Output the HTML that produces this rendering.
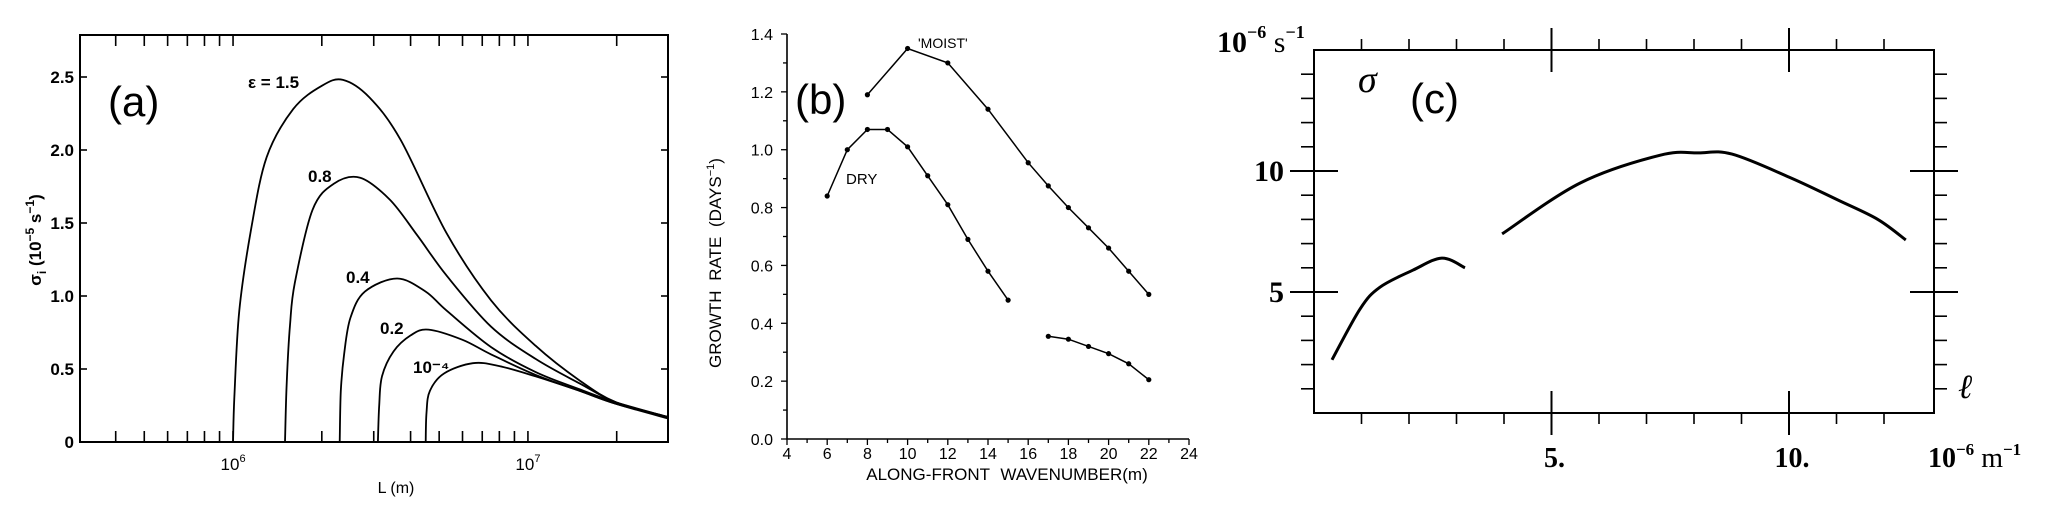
<!DOCTYPE html>
<html><head><meta charset="utf-8"><style>
html,body{margin:0;padding:0;background:#fff;}
svg{display:block;}
.sans{font-family:"Liberation Sans",sans-serif;}
.serif{font-family:"Liberation Serif",serif;}
</style></head><body>
<svg id="fig" width="2067" height="512" viewBox="0 0 2067 512" xmlns="http://www.w3.org/2000/svg">
<g id="pa"></g>
<g id="pb"></g>
<g id="pc"></g>
</svg>
<script>
// ---- Panel (a) data: L in units of 1e6 m, sigma in 1e-5 s^-1 ----
const aEpsLabels = ["ε = 1.5","0.8","0.4","0.2","10⁻⁴"];
const aL15 = [1.0,1.01,1.05,1.15,1.3,1.6,2.0,2.36,2.9,3.7,5.3,7.5,10.6,15,20,30];
const aS15 = [0,0.3,0.9,1.45,1.95,2.28,2.44,2.48,2.36,2.07,1.43,0.97,0.66,0.42,0.27,0.17];
const aL08 = [1.5,1.52,1.56,1.62,1.86,2.2,2.7,3.4,4.2,5.3,7.5,10.6,15,20,30];
const aS08 = [0,0.4,0.8,1.09,1.59,1.77,1.81,1.66,1.42,1.14,0.79,0.57,0.4,0.27,0.17];
const aL04 = [2.3,2.32,2.38,2.5,2.8,3.6,4.5,5.3,7.5,10.6,15,20,30];
const aS04 = [0,0.35,0.6,0.85,1.03,1.12,1.03,0.9,0.65,0.48,0.36,0.27,0.17];
const aL02 = [3.1,3.13,3.2,3.5,4.0,4.6,6.0,7.5,10.6,15,20,30];
const aS02 = [0,0.25,0.45,0.62,0.73,0.77,0.7,0.6,0.46,0.35,0.26,0.17];
const aL04m = [4.5,4.53,4.65,5.2,6.5,8,10.6,15,20,30];
const aS04m = [0,0.2,0.35,0.47,0.54,0.52,0.45,0.35,0.26,0.16];
const aYTicks = [0,0.5,1.0,1.5,2.0,2.5];
const aYTickLabels = ["0","0.5","1.0","1.5","2.0","2.5"];

// ---- Panel (b) data ----
const bMoistX = [8,10,12,14,16,17,18,19,20,21,22];
const bMoistY = [1.19,1.35,1.30,1.14,0.955,0.875,0.80,0.73,0.66,0.58,0.50];
const bDryX = [6,7,8,9,10,11,12,13,14,15];
const bDryY = [0.84,1.00,1.07,1.07,1.01,0.91,0.81,0.69,0.58,0.48];
const bLowX = [17,18,19,20,21,22];
const bLowY = [0.355,0.345,0.32,0.295,0.26,0.205];
const bXTicks = [4,6,8,10,12,14,16,18,20,22,24];
const bYTicks = [0,0.2,0.4,0.6,0.8,1.0,1.2,1.4];
const bYTickLabels = ["0.0","0.2","0.4","0.6","0.8","1.0","1.2","1.4"];

// ---- Panel (c) data ----
const cAX = [0.38,0.97,1.39,2.08,2.69,3.18];
const cAY = [2.2,4.3,5.2,5.9,6.4,6.0];
const cBX = [3.96,5.6,7.28,8.1,8.8,10.0,11.03,11.87,12.46];
const cBY = [7.4,9.5,10.65,10.75,10.7,9.75,8.8,8.0,7.15];
const cXTickLabels = ["5.","10."];
const cXTickVals = [5,10];
const cYTickLabels = ["10","5"];
const cYTickVals = [10,5];

const NS="http://www.w3.org/2000/svg";
function mk(parent,tag,attrs,text){const e=document.createElementNS(NS,tag);for(const k in attrs)e.setAttribute(k,attrs[k]);if(text!==undefined)e.textContent=text;parent.appendChild(e);return e;}
function smooth(pts){let d="M"+pts[0][0].toFixed(1)+","+pts[0][1].toFixed(1);
 for(let i=0;i<pts.length-1;i++){const p0=pts[Math.max(0,i-1)],p1=pts[i],p2=pts[i+1],p3=pts[Math.min(pts.length-1,i+2)];
 const c1=[p1[0]+(p2[0]-p0[0])/6,p1[1]+(p2[1]-p0[1])/6],c2=[p2[0]-(p3[0]-p1[0])/6,p2[1]-(p3[1]-p1[1])/6];
 d+="C"+c1[0].toFixed(1)+","+c1[1].toFixed(1)+" "+c2[0].toFixed(1)+","+c2[1].toFixed(1)+" "+p2[0].toFixed(1)+","+p2[1].toFixed(1);}return d;}

// ===== Panel A =====
(function(){
const g=document.getElementById('pa');
const L=80,R=668,T=35,B=442;
const lx0=5.481,lx1=7.475;
const X=v=>L+(Math.log10(v*1e6)-lx0)/(lx1-lx0)*(R-L);
const Y=v=>B-v*146;
let f=mk(g,'rect',{x:L,y:T,width:R-L,height:B-T,fill:'none',stroke:'#000','stroke-width':2});


for(let e=5;e<=7;e++)for(let m=1;m<=9;m++){const v=m*Math.pow(10,e)/1e6;const lv=Math.log10(v*1e6);if(lv<lx0||lv>lx1)continue;const x=X(v);
 let t1=mk(g,'line',{x1:x,y1:B,x2:x,y2:B-11,stroke:'#000','stroke-width':1.6});
 
 
 let t2=mk(g,'line',{x1:x,y1:T,x2:x,y2:T+11,stroke:'#000','stroke-width':1.6});
 
 }
aYTicks.forEach((v,i)=>{const y=Y(v);
 if(i>0){let t=mk(g,'line',{x1:L,y1:y,x2:L+7,y2:y,stroke:'#000','stroke-width':1.6});
 let t2=mk(g,'line',{x1:R,y1:y,x2:R-7,y2:y,stroke:'#000','stroke-width':1.6});}
 let tl=mk(g,'text',{x:74,y:y+6,'text-anchor':'end','font-size':17,'font-weight':'bold',class:'sans'},aYTickLabels[i]);
 
 });
let x6=mk(g,'text',{x:X(1),y:470,'text-anchor':'middle','font-size':17,class:'sans'});


x6.innerHTML='10<tspan dy="-8" font-size="11">6</tspan>';
let x7=mk(g,'text',{x:X(10),y:470,'text-anchor':'middle','font-size':17,class:'sans'});


x7.innerHTML='10<tspan dy="-8" font-size="11">7</tspan>';
let xt=mk(g,'text',{x:396,y:493,'text-anchor':'middle','font-size':16,class:'sans'},'L (m)');


let yt=mk(g,'text',{x:0,y:0,transform:'translate(41,240) rotate(-90)','text-anchor':'middle','font-size':17,'font-weight':'bold',class:'sans'});


yt.innerHTML='σ<tspan dy="5" font-size="12">i</tspan><tspan dy="-5"> (10</tspan><tspan dy="-7" font-size="12">−5</tspan><tspan dy="7"> s</tspan><tspan dy="-7" font-size="12">−1</tspan><tspan dy="7">)</tspan>';
const series=[[aL15,aS15],[aL08,aS08],[aL04,aS04],[aL02,aS02],[aL04m,aS04m]];
const names=['curve-eps-1.5','curve-eps-0.8','curve-eps-0.4','curve-eps-0.2','curve-eps-1e-4'];
series.forEach((s,i)=>{const pts=s[0].map((v,j)=>[X(v),Y(s[1][j])]);
 let p=mk(g,'path',{d:smooth(pts),fill:'none',stroke:'#000','stroke-width':1.8});
 
 });
const labPos=[[248,88],[308,182],[346,283],[380,334],[413,373]];
aEpsLabels.forEach((t,i)=>{let l=mk(g,'text',{x:labPos[i][0],y:labPos[i][1],'font-size':17,'font-weight':'bold',class:'sans'},t);
 
 });
let pl=mk(g,'text',{x:108,y:116,'font-size':42,class:'sans'},'(a)');


})();

// ===== Panel B =====
(function(){
const g=document.getElementById('pb');
const L=787,R=1189,B=439,T=34;
const X=v=>L+(v-4)/20*(R-L);
const Y=v=>B-v/1.4*(B-T);
let ax=mk(g,'path',{d:`M${L},${T}V${B}H${R}`,fill:'none',stroke:'#000','stroke-width':1.6});


for(let v=4;v<=24;v++){let t=mk(g,'line',{x1:X(v),y1:B,x2:X(v),y2:B+(v%2?4:6),stroke:'#000','stroke-width':1.3});}
for(let k=0;k<=14;k++){const v=k/10;let t=mk(g,'line',{x1:L,y1:Y(v),x2:L-(k%2?4:6),y2:Y(v),stroke:'#000','stroke-width':1.3});}
bXTicks.forEach(v=>{let t=mk(g,'text',{x:X(v),y:459,'text-anchor':'middle','font-size':16,class:'sans'},String(v));});
bYTicks.forEach((v,i)=>{let t=mk(g,'text',{x:773,y:Y(v)+6,'text-anchor':'end','font-size':16,class:'sans'},bYTickLabels[i]);});
let xt=mk(g,'text',{x:1007,y:480,'text-anchor':'middle','font-size':17,class:'sans','word-spacing':6},'ALONG-FRONT WAVENUMBER(m)');


let yt=mk(g,'text',{x:0,y:0,transform:'translate(721,263) rotate(-90)','text-anchor':'middle','font-size':17,class:'sans','word-spacing':5});


yt.innerHTML='GROWTH RATE (DAYS<tspan dy="-7" font-size="11">−1</tspan><tspan dy="7">)</tspan>';
const ser=[[bMoistX,bMoistY,'moist-series'],[bDryX,bDryY,'dry-series'],[bLowX,bLowY,'low-series']];
ser.forEach(s=>{const pts=s[0].map((v,j)=>X(v).toFixed(1)+','+Y(s[1][j]).toFixed(1)).join(' ');
 let p=mk(g,'polyline',{points:pts,fill:'none',stroke:'#000','stroke-width':1.5});
 
 
 s[0].forEach((v,j)=>{let c=mk(g,'circle',{cx:X(v),cy:Y(s[1][j]),r:2.6,fill:'#000'});
  
  });});
let m=mk(g,'text',{x:918,y:48,'font-size':14,class:'sans'},"'MOIST'");


let d=mk(g,'text',{x:846,y:184,'font-size':15,class:'sans'},'DRY');


let pl=mk(g,'text',{x:795,y:114,'font-size':42,class:'sans'},'(b)');


})();

// ===== Panel C =====
(function(){
const g=document.getElementById('pc');
const L=1314,R=1934,T=50,B=413;
const X=v=>L+v*47.5;
const Y=v=>B-v*24.2;
let f=mk(g,'rect',{x:L,y:T,width:R-L,height:B-T,fill:'none',stroke:'#000','stroke-width':2});


for(let v=1;v<=12;v++){const x=X(v);const maj=(v%5===0);
 let t=mk(g,'line',{x1:x,y1:B+(maj?-22:0),x2:x,y2:B+(maj?22:11),stroke:'#000','stroke-width':maj?2:1.6});
 let t2=mk(g,'line',{x1:x,y1:T+(maj?22:0),x2:x,y2:T-(maj?22:11),stroke:'#000','stroke-width':maj?2:1.6});}
for(let v=1;v<=14;v++){const y=Y(v);const maj=(v%5===0);
 let t=mk(g,'line',{x1:L+(maj?24:0),y1:y,x2:L-(maj?24:13),y2:y,stroke:'#000','stroke-width':maj?2:1.6});
 let t2=mk(g,'line',{x1:R-(maj?24:0),y1:y,x2:R+(maj?24:13),y2:y,stroke:'#000','stroke-width':maj?2:1.6});}
cXTickVals.forEach((v,i)=>{let t=mk(g,'text',{x:X(v)+3,y:467,'text-anchor':'middle','font-size':28,'font-weight':'bold',class:'serif'},cXTickLabels[i]);});
cYTickVals.forEach((v,i)=>{let t=mk(g,'text',{x:1284,y:Y(v)+10,'text-anchor':'end','font-size':30,'font-weight':'bold',class:'serif'},cYTickLabels[i]);});
let yu=mk(g,'text',{x:1217,y:52,'font-size':30,class:'serif'});


yu.innerHTML='<tspan font-weight="bold">10</tspan><tspan dy="-14" font-size="18" font-weight="bold">−6</tspan><tspan dy="14"> s</tspan><tspan dy="-14" font-size="18" font-weight="bold">−1</tspan>';
let xu=mk(g,'text',{x:1928,y:467,'font-size':28,class:'serif'});


xu.innerHTML='<tspan font-weight="bold">10</tspan><tspan dy="-12" font-size="17" font-weight="bold">−6</tspan><tspan dy="12"> m</tspan><tspan dy="-12" font-size="17" font-weight="bold">−1</tspan>';
let sg=mk(g,'text',{x:1358,y:92,'font-size':38,'font-style':'italic',class:'serif'},'σ');


let el=mk(g,'text',{x:1958,y:398,'font-size':34,'font-style':'italic',class:'serif'},'ℓ');


let pl=mk(g,'text',{x:1410,y:113,'font-size':42,class:'sans'},'(c)');


[[cAX,cAY,'curve-branch-1'],[cBX,cBY,'curve-branch-2']].forEach(s=>{
 const pts=s[0].map((v,j)=>[X(v),Y(s[1][j])]);
 let p=mk(g,'path',{d:smooth(pts),fill:'none',stroke:'#000','stroke-width':3});
 
 });
})();
</script>
</body></html>
